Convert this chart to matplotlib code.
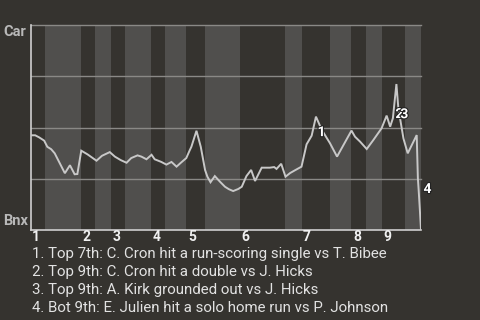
import matplotlib
matplotlib.use("Agg")
import matplotlib.pyplot as plt
import matplotlib.patheffects as pe

plt.rcParams['font.family'] = ['Roboto', 'DejaVu Sans']

# game progress (0-100) and Car win probability (%) per play
play_x = [0, 1.2, 2.2, 3.5, 4.3, 5.3, 6.2, 8.8, 10.1, 11.3, 12.0, 13.0, 14.6, 16.9,
          18.3, 20.3, 21.6, 23.1, 24.6, 25.8, 27.4, 28.4, 29.7, 31.0, 31.8, 33.5,
          34.8, 36.1, 37.4, 38.5, 39.9, 40.8, 41.2, 42.5, 43.6, 44.7, 45.3, 46.1,
          47.2, 48.5, 49.8, 50.8, 51.9, 53.2, 54.1, 55.3, 56.5, 57.5, 59.2, 61.3,
          62.4, 63.0, 64.2, 65.3, 66.5, 67.7, 69.4, 70.7, 72.0, 73.1, 74.6, 76.7,
          78.5, 82.2, 83.1, 84.4, 86.1, 87.8, 89.9, 91.2, 92.1, 92.8, 93.7, 94.2,
          95.5, 96.6, 98.9, 99.2, 99.4, 99.7, 100]
win_prob = [46.2, 46.2, 45.2, 43.6, 40.6, 39.4, 37.4, 27.7, 31.6, 27.2, 27.3, 38.7,
            36.9, 33.8, 36.2, 38.0, 35.8, 34.1, 32.8, 35.1, 36.4, 35.8, 34.5, 36.7,
            34.5, 33.2, 31.9, 33.2, 30.9, 32.8, 35.1, 39.0, 40.6, 48.4, 40.6, 29.3,
            26.0, 23.3, 26.3, 23.6, 21.1, 19.9, 19.0, 20.0, 21.1, 26.3, 29.3, 23.9,
            30.4, 30.4, 30.7, 29.8, 32.3, 26.0, 27.8, 29.1, 30.9, 41.8, 46.0, 55.3,
            48.8, 42.3, 35.8, 48.5, 45.5, 43.1, 39.5, 43.9, 49.6, 55.8, 50.4, 54.5,
            71.2, 59.4, 44.7, 37.4, 46.3, 25.2, 19.5, 10.1, 0.0]

# half-inning boundaries (top 1, bot 1, top 2, ...)
half_innings = [0, 3.7, 12.9, 16.5, 20.6, 24.2, 30.9, 34.5, 39.9, 44.7, 53.7,
                65.3, 69.4, 76.8, 82.2, 85.8, 89.9, 96.0, 100]
inning_labels = ['1', '2', '3', '4', '5', '6', '7', '8', '9']

# key events: play index and label
event_play = [59, 72, 73, 80]
event_label = ['1', '2', '3', '4']
event_offset = [(1.5, -8.5), (-1, -23), (2, 1), (2.5, 48)]  # pixels
event_text = [
    "1. Top 7th: C. Cron hit a run-scoring single vs T. Bibee",
    "2. Top 9th: C. Cron hit a double vs J. Hicks",
    "3. Top 9th: A. Kirk grounded out vs J. Hicks",
    "4. Bot 9th: E. Julien hit a solo home run vs P. Johnson",
]

bg = '#35332f'
fig = plt.figure(figsize=(4.8, 3.2), dpi=100, facecolor=bg)
ax = fig.add_axes([30.5/480, 1-230/320, (421-30.5)/480, 205/320])
ax.set_facecolor(bg)

# shade bottom halves of innings
for i in range(1, len(half_innings)-1, 2):
    ax.axvspan(half_innings[i], half_innings[i+1], color='#504f4d', lw=0, zorder=0)

for yv in [25, 50, 75, 100]:
    ax.axhline(yv, color='#8a8986', lw=1.0, zorder=1, clip_on=False)

ax.plot(play_x, win_prob, color='#c8c8c8', lw=1.4, zorder=3,
        solid_joinstyle='miter')

ax.set_xlim(0, 100)
ax.set_ylim(0, 100)
for s in ['top', 'right']:
    ax.spines[s].set_visible(False)
for s in ['left', 'bottom']:
    ax.spines[s].set_color('#cfcfcf')
    ax.spines[s].set_linewidth(1.2)
ax.set_xticks([])
ax.set_yticks([])

outline = [pe.withStroke(linewidth=1.5, foreground='#222222')]
for idx, lab, off in zip(event_play, event_label, event_offset):
    ax.annotate(lab, (play_x[idx], win_prob[idx]), xytext=off,
                textcoords='offset pixels', ha='left', va='top',
                color='white', fontsize=10, fontweight='bold',
                path_effects=outline, zorder=5)

# inning numbers at the start of each top half
for k, lab in enumerate(inning_labels):
    ax.text(half_innings[2*k] + 0.4, 0, lab, transform=ax.get_xaxis_transform(),
            ha='left', va='top', color='#f0f0f0', fontsize=10, fontweight='bold')

fig.text(3/480, 1-35.5/320, 'Car', color='#b8b8b8', fontsize=10.5,
         fontweight='bold', ha='left', va='baseline')
fig.text(3/480, 1-225/320, 'Bnx', color='#b8b8b8', fontsize=10.5,
         fontweight='bold', ha='left', va='baseline')

for j, line in enumerate(event_text):
    fig.text(31.5/480, 1-(258.3 + 17.8*j)/320, line, color='#e2e2e2',
             fontsize=10.8, ha='left', va='baseline')

fig.savefig('out.png', dpi=100, facecolor=bg)
